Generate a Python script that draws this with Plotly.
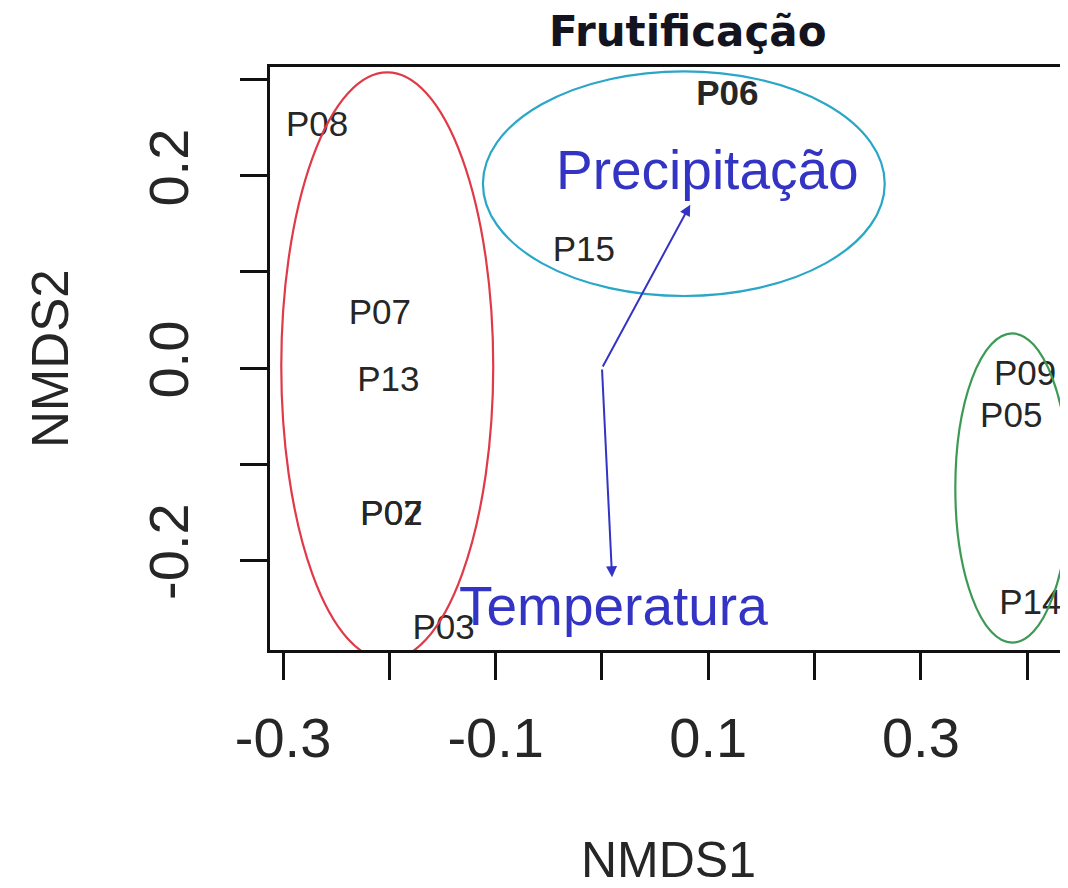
import plotly.graph_objects as go

# ---- data ----
site_labels = ["P08", "P07", "P13", "P02", "P07", "P03", "P15", "<b>P06</b>", "P09", "P05", "P14"]
site_x = [-0.268, -0.209, -0.201, -0.198, -0.198, -0.149, -0.017, 0.118, 0.398, 0.385, 0.403]
site_y = [0.251, 0.055, -0.015, -0.154, -0.154, -0.273, 0.121, 0.283, -0.009, -0.052, -0.247]

vector_names = ["Precipitação", "Temperatura"]
vector_x = [0.083, 0.0095]
vector_y = [0.170, -0.218]
vector_label_x = [0.099, 0.011]
vector_label_y = [0.206, -0.248]

ellipse_cx = [-0.202, 0.077, 0.386]
ellipse_cy = [0.002, 0.192, -0.125]
ellipse_rx = [0.0997, 0.189, 0.0536]
ellipse_ry = [0.306, 0.117, 0.161]
ellipse_colors = ["#e03a48", "#2aa6c8", "#3c9a55"]

x_tickvals = [-0.3, -0.2, -0.1, 0.0, 0.1, 0.2, 0.3, 0.4]
x_ticktext = ["-0.3", "", "-0.1", "", "0.1", "", "0.3", ""]
y_tickvals = [-0.2, -0.1, 0.0, 0.1, 0.2, 0.3]
y_ticktext = ["-0.2", "", "0.0", "", "0.2", ""]

X_RANGE = [-0.3123, 0.4384]
Y_RANGE = [-0.2937, 0.3135]

TXT = "Liberation Sans, Arial, sans-serif"
BLUE = "#3434c4"

# page has an 8px body margin: figure is 1060x880 placed at (8, 8)
PLOT_L, PLOT_T, PLOT_R, PLOT_B = 270, 67, 1068, 650   # page pixels of the plot area
PW, PH = PLOT_R - PLOT_L, PLOT_B - PLOT_T


def px_paper(px, py):
    return (px - PLOT_L) / PW, (PLOT_B - py) / PH


fig = go.Figure()

# site labels
fig.add_trace(go.Scatter(
    x=site_x, y=site_y, mode="text", text=site_labels,
    textposition="middle center",
    textfont=dict(family=TXT, size=35, color="#262626"),
    hoverinfo="skip", showlegend=False, cliponaxis=False,
))

# ellipses
for cx, cy, rx, ry, col in zip(ellipse_cx, ellipse_cy, ellipse_rx, ellipse_ry, ellipse_colors):
    fig.add_shape(type="circle", xref="x", yref="y",
                  x0=cx - rx, x1=cx + rx, y0=cy - ry, y1=cy + ry,
                  line=dict(color=col, width=2.2), layer="above")

# environmental vectors
for vx, vy in zip(vector_x, vector_y):
    fig.add_annotation(x=vx, y=vy, ax=0, ay=0, xref="x", yref="y",
                       axref="x", ayref="y", text="", showarrow=True,
                       arrowhead=2, arrowsize=1.1, arrowwidth=2, arrowcolor=BLUE)
for name, lx, ly in zip(vector_names, vector_label_x, vector_label_y):
    fig.add_annotation(x=lx, y=ly, xref="x", yref="y", text=name, showarrow=False,
                       font=dict(family=TXT, size=55, color=BLUE),
                       xanchor="center", yanchor="middle")

# title and axis titles
tx, ty = px_paper(688, 32)
fig.add_annotation(x=tx, y=ty, xref="paper", yref="paper",
                   text="<b>Frutificação</b>", showarrow=False,
                   font=dict(family="DejaVu Sans, Verdana, sans-serif", size=42, color="#141420"),
                   xanchor="center", yanchor="middle")
nx, ny = px_paper(668, 860)
fig.add_annotation(x=nx, y=ny, xref="paper", yref="paper",
                   text="NMDS1", showarrow=False,
                   font=dict(family=TXT, size=50, color="#262626"),
                   xanchor="center", yanchor="middle")
mx, my = px_paper(50, 359)
fig.add_annotation(x=mx, y=my, xref="paper", yref="paper",
                   text="NMDS2", showarrow=False, textangle=-90,
                   font=dict(family=TXT, size=51, color="#262626"),
                   xanchor="center", yanchor="middle")

fig.update_xaxes(range=X_RANGE, tickmode="array", tickvals=x_tickvals, ticktext=x_ticktext,
                 showgrid=False, zeroline=False, showline=True, linecolor="#111",
                 linewidth=2.5, mirror=True, ticks="outside", ticklen=27, tickwidth=2.5,
                 tickcolor="#111", ticklabelstandoff=10,
                 tickfont=dict(family=TXT, size=56, color="#262626"))
fig.update_yaxes(range=Y_RANGE, tickmode="array", tickvals=y_tickvals, ticktext=y_ticktext,
                 showgrid=False, zeroline=False, showline=True, linecolor="#111",
                 linewidth=2.5, mirror=False, ticks="outside", ticklen=27, tickwidth=2.5,
                 tickcolor="#111", tickangle=-90, ticklabelstandoff=30,
                 tickfont=dict(family=TXT, size=56, color="#262626"))

fig.update_layout(
    width=1060, height=880,
    margin=dict(l=PLOT_L - 8, r=0, t=PLOT_T - 8, b=880 - (PLOT_B - 8), autoexpand=False),
    paper_bgcolor="white", plot_bgcolor="white",
    showlegend=False,
)

fig.write_html("out.html")
